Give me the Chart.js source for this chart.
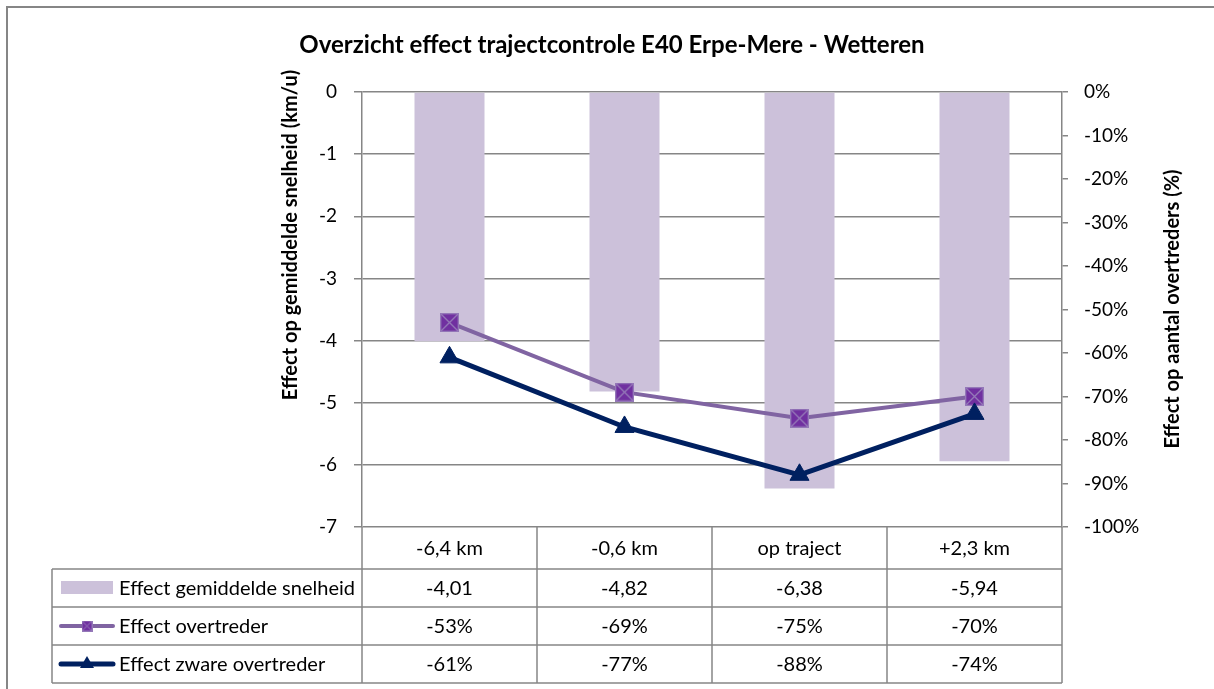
<!DOCTYPE html>
<html>
<head>
<meta charset="utf-8">
<script src="https://cdn.jsdelivr.net/npm/chart.js@4.4.1/dist/chart.umd.min.js"></script>
<style>
  html, body { margin: 0; padding: 0; background: #fff; }
  #wrap { width: 1214px; height: 689px; position: relative; }
</style>
</head>
<body>
<div id="wrap"><canvas id="c" width="1214" height="689"></canvas></div>
<script>
// ---- data ----
const title = 'Overzicht effect trajectcontrole E40 Erpe-Mere - Wetteren';
const categories = ['-6,4 km', '-0,6 km', 'op traject', '+2,3 km'];
const seriesNames = ['Effect gemiddelde snelheid', 'Effect overtreder', 'Effect zware overtreder'];
const snelheid = [-4.01, -4.82, -6.38, -5.94];      // km/u (left axis)
const overtreder = [-53, -69, -75, -70];            // % (right axis)
const zwareOvertreder = [-61, -77, -88, -74];       // % (right axis)
const leftTicks = [0, -1, -2, -3, -4, -5, -6, -7];
const rightTicks = [0, -10, -20, -30, -40, -50, -60, -70, -80, -90, -100];
const leftTitle = 'Effect op gemiddelde snelheid (km/u)';
const rightTitle = 'Effect op aantal overtreders (%)';

// ---- styles ----
const FONT = 'Lato, "Open Sans", sans-serif';
const GRID = '#868686';
const BAR = '#CCC1DA';
const PURPLE = '#8064A2';
const PURPLE_FILL = '#7030A0';
const NAVY = '#002060';
const TICK_SIZE = 19;
const TABLE_SIZE = 20;

Chart.defaults.font.family = FONT;
Chart.defaults.font.size = TICK_SIZE;
Chart.defaults.color = '#000';

function squareX(size) {
  const cv = document.createElement('canvas');
  cv.width = size; cv.height = size;
  const g = cv.getContext('2d');
  g.fillStyle = PURPLE_FILL;
  g.fillRect(0, 0, size, size);
  g.strokeStyle = '#9478B8';
  g.lineWidth = Math.max(1, size / 14);
  g.strokeRect(g.lineWidth / 2, g.lineWidth / 2, size - g.lineWidth, size - g.lineWidth);
  g.beginPath();
  g.moveTo(1, 1); g.lineTo(size - 1, size - 1);
  g.moveTo(size - 1, 1); g.lineTo(1, size - 1);
  g.stroke();
  return cv;
}
const bigSquare = squareX(19);
const smallSquare = squareX(11);

const fmtKm = v => v.toFixed(2).replace('.', ',');
const fmtPct = v => v + '%';

const extras = {
  id: 'extras',
  beforeDraw(chart) {
    const ctx = chart.ctx;
    ctx.save();
    ctx.fillStyle = '#fff';
    ctx.fillRect(0, 0, chart.width, chart.height);
    ctx.strokeStyle = GRID;
    ctx.lineWidth = 2;
    ctx.beginPath();
    ctx.moveTo(7, chart.height + 5);
    ctx.lineTo(7, 7);
    ctx.lineTo(chart.width + 5, 7);
    ctx.stroke();
    ctx.restore();
  },
  afterDraw(chart) {
    const ctx = chart.ctx;
    const x = chart.scales.x;
    const area = chart.chartArea;
    const left = area.left, right = area.right;
    const n = categories.length;
    const band = (right - left) / n;
    const rowTop = x.bottom;
    const rowH = 38;
    const keyLeft = 52;
    const bottom = rowTop + rowH * 3;

    ctx.save();
    ctx.strokeStyle = GRID;
    ctx.lineWidth = 1.5;
    ctx.beginPath();
    for (let r = 0; r <= 3; r++) {
      const y = rowTop + r * rowH;
      ctx.moveTo(keyLeft, y); ctx.lineTo(right, y);
    }
    for (let i = 0; i <= n; i++) {
      const xx = left + i * band;
      ctx.moveTo(xx, area.bottom); ctx.lineTo(xx, bottom);
    }
    ctx.moveTo(keyLeft, rowTop); ctx.lineTo(keyLeft, bottom);
    ctx.stroke();

    // values
    ctx.fillStyle = '#000';
    ctx.font = TABLE_SIZE + 'px ' + FONT;
    ctx.textAlign = 'center';
    ctx.textBaseline = 'middle';
    const rows = [snelheid.map(fmtKm), overtreder.map(fmtPct), zwareOvertreder.map(fmtPct)];
    rows.forEach((vals, r) => {
      const cy = rowTop + r * rowH + rowH / 2 + 1;
      vals.forEach((t, i) => ctx.fillText(t, left + band * (i + 0.5), cy));
    });

    // legend keys
    const kx = 87;
    let cy = rowTop + rowH / 2;
    ctx.fillStyle = BAR;
    ctx.fillRect(61, cy - 7, 52, 13);
    cy = rowTop + rowH * 1.5;
    ctx.strokeStyle = PURPLE; ctx.lineWidth = 4; ctx.lineCap = 'round';
    ctx.beginPath(); ctx.moveTo(61, cy); ctx.lineTo(113, cy); ctx.stroke();
    ctx.drawImage(smallSquare, kx - 5.5, cy - 5.5);
    cy = rowTop + rowH * 2.5;
    ctx.strokeStyle = NAVY; ctx.lineWidth = 5;
    ctx.beginPath(); ctx.moveTo(61, cy); ctx.lineTo(113, cy); ctx.stroke();
    ctx.fillStyle = NAVY;
    ctx.beginPath(); ctx.moveTo(kx, cy - 8); ctx.lineTo(kx + 7, cy + 4); ctx.lineTo(kx - 7, cy + 4); ctx.closePath(); ctx.fill();

    ctx.fillStyle = '#000';
    ctx.textAlign = 'left';
    seriesNames.forEach((s, r) => ctx.fillText(s, 119, rowTop + r * rowH + rowH / 2 + 1));

    // axis titles
    ctx.font = 'bold 20px ' + FONT;
    ctx.textAlign = 'center';
    ctx.save();
    ctx.translate(291, 235);
    ctx.rotate(-Math.PI / 2);
    ctx.fillText(leftTitle, 0, 0);
    ctx.restore();
    ctx.save();
    ctx.translate(1173, 309);
    ctx.rotate(-Math.PI / 2);
    ctx.fillText(rightTitle, 0, 0);
    ctx.restore();
    ctx.restore();
  }
};

new Chart(document.getElementById('c'), {
  type: 'bar',
  data: {
    labels: categories,
    datasets: [
      {
        type: 'line', label: seriesNames[2], data: zwareOvertreder, yAxisID: 'y1',
        borderColor: NAVY, backgroundColor: NAVY, borderWidth: 5,
        pointStyle: 'triangle', pointRadius: 11, pointHoverRadius: 11,
        pointBackgroundColor: NAVY, pointBorderColor: NAVY, pointBorderWidth: 1,
        tension: 0, order: 1
      },
      {
        type: 'line', label: seriesNames[1], data: overtreder, yAxisID: 'y1',
        borderColor: PURPLE, backgroundColor: PURPLE_FILL, borderWidth: 4,
        pointStyle: bigSquare, pointRadius: 10, pointHoverRadius: 10,
        tension: 0, order: 2
      },
      {
        type: 'bar', label: seriesNames[0], data: snelheid, yAxisID: 'y',
        backgroundColor: BAR, borderWidth: 0,
        categoryPercentage: 1, barPercentage: 0.4, order: 3
      }
    ]
  },
  options: {
    responsive: false,
    animation: false,
    devicePixelRatio: 1,
    layout: { padding: { left: 10, right: 0, top: 0, bottom: 120 } },
    plugins: {
      legend: { display: false },
      tooltip: { enabled: false },
      title: {
        display: true, text: title, color: '#000',
        font: { size: 24, weight: 'bold', family: FONT, lineHeight: 1.2 },
        padding: { top: 31, bottom: 32.2 }
      }
    },
    scales: {
      x: {
        position: 'bottom',
        grid: { display: false, drawTicks: false },
        border: { display: false },
        ticks: { padding: 10, font: { size: TABLE_SIZE }, color: '#000', maxRotation: 0 },
        afterFit(s) { s.height = 42; }
      },
      y: {
        position: 'left',
        min: -7, max: 0,
        afterBuildTicks(s) { s.ticks = leftTicks.map(v => ({ value: v })); },
        ticks: { padding: 17, color: '#000', font: { size: TICK_SIZE }, callback: v => String(v).replace('.', ',') },
        grid: { color: GRID, lineWidth: 1.5, tickLength: 8, drawTicks: true },
        border: { display: true, color: GRID, width: 1.5 },
        afterFit(s) { s.width = 352; }
      },
      y1: {
        position: 'right',
        min: -100, max: 0,
        afterBuildTicks(s) { s.ticks = rightTicks.map(v => ({ value: v })); },
        ticks: { padding: 16, color: '#000', font: { size: TICK_SIZE }, callback: v => v + '%' },
        grid: { drawOnChartArea: false, color: GRID, lineWidth: 1.5, tickLength: 6 },
        border: { display: true, color: GRID, width: 1.5 },
        afterFit(s) { s.width = 152; }
      }
    }
  },
  plugins: [extras]
});
</script>
</body>
</html>
